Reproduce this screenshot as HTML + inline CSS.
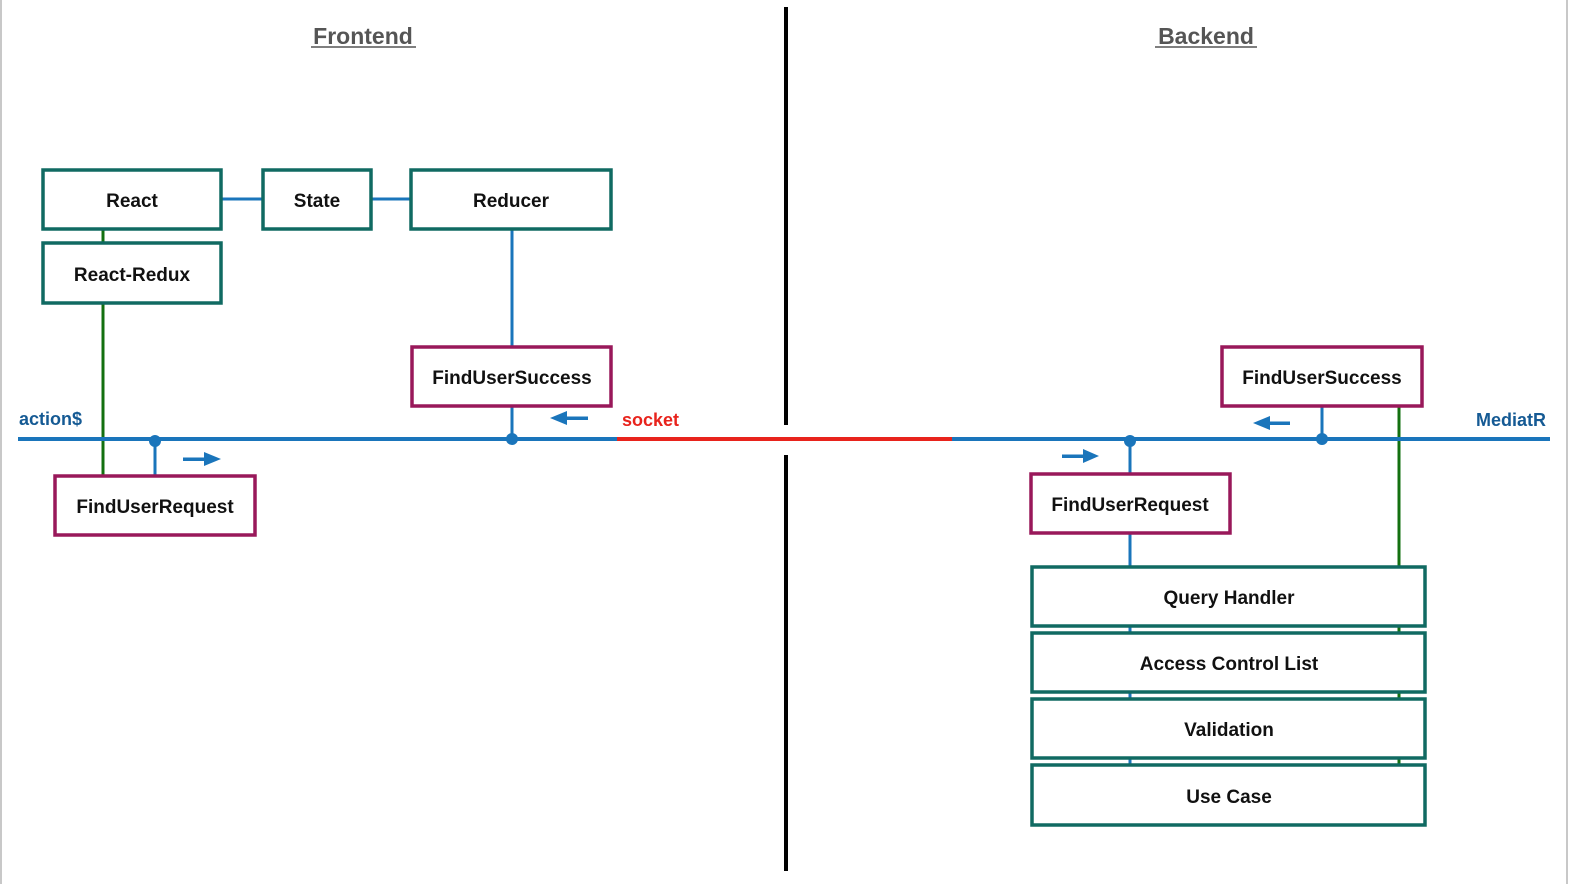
<!DOCTYPE html>
<html><head><meta charset="utf-8"><style>
html,body{margin:0;padding:0;background:#fff;overflow:hidden;width:1574px;height:884px;}
svg{display:block;}
text{font-family:"Liberation Sans",Arial,sans-serif;}
</style></head><body>
<svg width="1574" height="884" viewBox="0 0 1574 884" xmlns="http://www.w3.org/2000/svg">
<rect x="0" y="0" width="1574" height="884" fill="#fff"/>
<line x1="1" y1="0" x2="1" y2="884" stroke="#c8c8c8" stroke-width="2"/>
<line x1="1567" y1="0" x2="1567" y2="884" stroke="#c8c8c8" stroke-width="2"/>

<!-- headers -->
<text x="363" y="44" text-anchor="middle" font-size="23" font-weight="bold" fill="#555">Frontend</text>
<line x1="311" y1="47" x2="416" y2="47" stroke="#555" stroke-width="1.5"/>
<text x="1206" y="44" text-anchor="middle" font-size="23" font-weight="bold" fill="#555">Backend</text>
<line x1="1155" y1="47" x2="1257" y2="47" stroke="#555" stroke-width="1.5"/>

<!-- divider -->
<line x1="786" y1="7" x2="786" y2="425" stroke="#000" stroke-width="4"/>
<line x1="786" y1="455" x2="786" y2="871" stroke="#000" stroke-width="4"/>

<!-- connectors -->
<g stroke="#1a75bb" stroke-width="3" fill="none">
<line x1="221" y1="199" x2="263" y2="199"/>
<line x1="371" y1="199" x2="411" y2="199"/>
<line x1="512" y1="229" x2="512" y2="347"/>
<line x1="512" y1="406" x2="512" y2="439"/>
<line x1="155" y1="441" x2="155" y2="476"/>
<line x1="1130" y1="441" x2="1130" y2="474"/>
<line x1="1130" y1="533" x2="1130" y2="765"/>
<line x1="1322" y1="406" x2="1322" y2="439"/>
</g>
<g stroke="#137010" stroke-width="3">
<line x1="103" y1="229" x2="103" y2="476"/>
<line x1="1399" y1="406" x2="1399" y2="765"/>
</g>

<!-- main bus -->
<line x1="18" y1="439" x2="618" y2="439" stroke="#1a75bb" stroke-width="4"/>
<line x1="952" y1="439" x2="1550" y2="439" stroke="#1a75bb" stroke-width="4"/>
<line x1="617" y1="439" x2="952" y2="439" stroke="#e8231c" stroke-width="4"/>

<g fill="#1a75bb">
<circle cx="512" cy="439" r="6"/>
<circle cx="155" cy="441" r="6"/>
<circle cx="1130" cy="441" r="6"/>
<circle cx="1322" cy="439" r="6"/>
<rect x="183" y="457.5" width="24" height="3.5"/><polygon points="204,452 221,459 204,466"/>
<rect x="562" y="416.5" width="26" height="3.5"/><polygon points="567,411 550,418 567,425"/>
<rect x="1062" y="454.5" width="24" height="3.5"/><polygon points="1083,449 1099,456 1083,463"/>
<rect x="1265" y="421.5" width="25" height="3.5"/><polygon points="1270,416 1253,423 1270,430"/>
</g>

<text x="19" y="425" font-size="18" font-weight="bold" fill="#155a94">action$</text>
<text x="622" y="426" font-size="18" font-weight="bold" fill="#e8231c">socket</text>
<text x="1546" y="426" font-size="18" font-weight="bold" fill="#155a94" text-anchor="end">MediatR</text>

<!-- teal boxes -->
<g fill="#fff" stroke="#106a62" stroke-width="3.5">
<rect x="43" y="170" width="178" height="59"/>
<rect x="263" y="170" width="108" height="59"/>
<rect x="411" y="170" width="200" height="59"/>
<rect x="43" y="243" width="178" height="60"/>
<rect x="1032" y="567" width="393" height="59"/>
<rect x="1032" y="633" width="393" height="59"/>
<rect x="1032" y="699" width="393" height="59"/>
<rect x="1032" y="765" width="393" height="60"/>
</g>
<!-- purple boxes -->
<g fill="#fff" stroke="#99185a" stroke-width="3.5">
<rect x="412" y="347" width="199" height="59"/>
<rect x="55" y="476" width="200" height="59"/>
<rect x="1222" y="347" width="200" height="59"/>
<rect x="1031" y="474" width="199" height="59"/>
</g>

<g font-size="19" font-weight="bold" fill="#111" text-anchor="middle">
<text x="132" y="207">React</text>
<text x="317" y="207">State</text>
<text x="511" y="207">Reducer</text>
<text x="132" y="281">React-Redux</text>
<text x="512" y="384">FindUserSuccess</text>
<text x="155" y="513">FindUserRequest</text>
<text x="1322" y="384">FindUserSuccess</text>
<text x="1130" y="511">FindUserRequest</text>
<text x="1229" y="604">Query Handler</text>
<text x="1229" y="670">Access Control List</text>
<text x="1229" y="736">Validation</text>
<text x="1229" y="803">Use Case</text>
</g>
</svg>
</body></html>
